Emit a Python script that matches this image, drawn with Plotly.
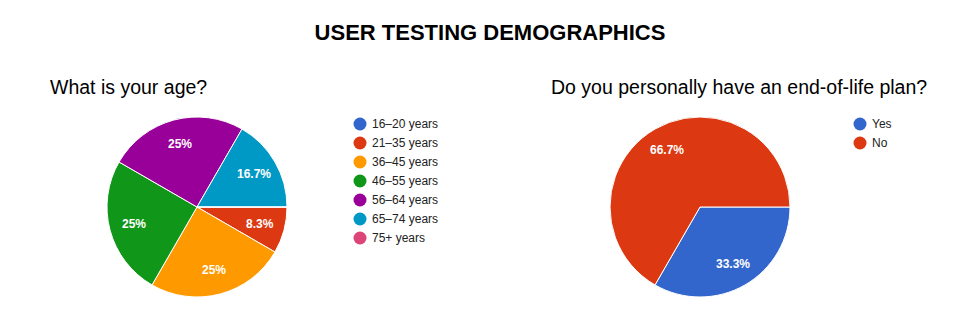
import math
import plotly.graph_objects as go

W, H = 980, 335

title = "USER TESTING DEMOGRAPHICS"
q1 = "What is your age?"
q2 = "Do you personally have an end-of-life plan?"

age_labels = ["16–20 years", "21–35 years", "36–45 years", "46–55 years",
              "56–64 years", "65–74 years", "75+ years"]
age_counts = [0, 1, 3, 3, 3, 2, 0]
age_colors = ["#3366cc", "#dc3912", "#ff9900", "#109618", "#990099", "#0099c6", "#dd4477"]

plan_labels = ["Yes", "No"]
plan_counts = [1, 2]
plan_colors = ["#3366cc", "#dc3912"]

FONT = "Liberation Sans, Arial, sans-serif"

# layout geometry (pixels)
R = 90
PIE1 = (197, 207)
PIE2 = (700, 207)
LABEL_R = 0.73
LEG1 = (360, 124)
LEG2 = (860, 124)
LEG_STEP = 19
LEG_DOT = 13
LEG_GAP = 10


def px(x):
    return x / W


def py(y):
    return 1 - y / H


def dom(c, r):
    cx, cy = c
    return dict(x=[px(cx - r), px(cx + r)], y=[py(cy + r), py(cy - r)])


def pct(v, tot):
    return ("%g" % round(100 * v / tot, 1)) + "%"


def slice_labels(vals, center, start_deg=0.0):
    """Percent labels at the mid-angle of each slice (clockwise from 3 o'clock)."""
    tot = sum(vals)
    out = []
    acc = 0.0
    for v in vals:
        if v > 0:
            mid = math.radians(start_deg + 360 * (acc + v / 2) / tot)
            x = center[0] + LABEL_R * R * math.cos(mid)
            y = center[1] + LABEL_R * R * math.sin(mid)
            out.append(dict(text=pct(v, tot), x=px(x), y=py(y), xref="paper", yref="paper",
                            xanchor="center", yanchor="middle", showarrow=False,
                            font=dict(size=12, color="white", family=FONT, weight="bold")))
        acc += v
    return out


def legend(labels, colors, origin):
    shapes, anns = [], []
    x0, y0 = origin
    for i, (lab, col) in enumerate(zip(labels, colors)):
        cy = y0 + i * LEG_STEP
        shapes.append(dict(type="circle", xref="paper", yref="paper",
                           x0=px(x0 - LEG_DOT / 2), x1=px(x0 + LEG_DOT / 2),
                           y0=py(cy + LEG_DOT / 2), y1=py(cy - LEG_DOT / 2),
                           fillcolor=col, line=dict(width=0)))
        anns.append(dict(text=lab, x=px(x0 + LEG_GAP), y=py(cy), xref="paper", yref="paper",
                         xanchor="left", yanchor="middle", showarrow=False,
                         font=dict(size=12, color="#222222", family=FONT)))
    return shapes, anns


fig = go.Figure()

for labels, vals, colors, center in [(age_labels, age_counts, age_colors, PIE1),
                                     (plan_labels, plan_counts, plan_colors, PIE2)]:
    fig.add_trace(go.Pie(
        labels=labels, values=vals, textinfo="none",
        marker=dict(colors=colors, line=dict(color="white", width=1)),
        sort=False, direction="clockwise", rotation=90,
        domain=dom(center, R), showlegend=False,
        hoverinfo="label+percent",
    ))

s1, a1 = legend(age_labels, age_colors, LEG1)
s2, a2 = legend(plan_labels, plan_colors, LEG2)

annotations = [
    dict(text=q1, x=px(48), y=py(87), xref="paper", yref="paper",
         xanchor="left", yanchor="middle", showarrow=False,
         font=dict(size=19.5, color="black", family=FONT)),
    dict(text=q2, x=px(549), y=py(87), xref="paper", yref="paper",
         xanchor="left", yanchor="middle", showarrow=False,
         font=dict(size=19.5, color="black", family=FONT)),
] + slice_labels(age_counts, PIE1) + slice_labels(plan_counts, PIE2) + a1 + a2

fig.update_layout(
    width=W, height=H,
    margin=dict(l=0, r=0, t=0, b=0),
    paper_bgcolor="white", plot_bgcolor="white",
    font=dict(family=FONT, color="#222222"),
    title=dict(text="<b>" + title + "</b>", x=0.5, xanchor="center",
               y=py(32), yanchor="middle", font=dict(size=22, color="black", family=FONT)),
    showlegend=False,
    shapes=s1 + s2,
    annotations=annotations,
)

fig.write_html("out.html")
